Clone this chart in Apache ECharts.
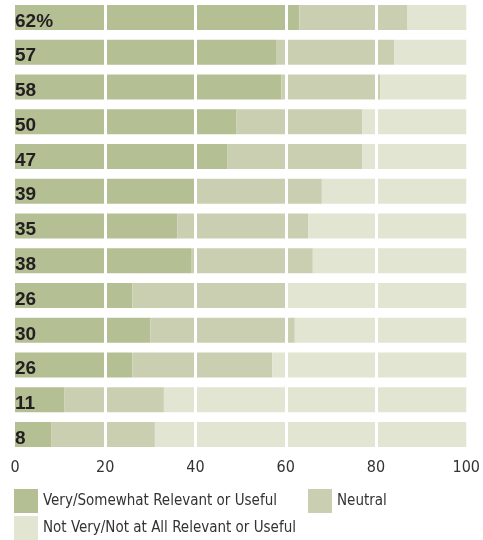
<!DOCTYPE html>
<html>
<head>
<meta charset="utf-8">
<script src="https://cdn.jsdelivr.net/npm/echarts@6/dist/echarts.min.js"></script>
<style>
  html, body { margin: 0; padding: 0; background: #fff; }
  #main { width: 483px; height: 540px; }
</style>
</head>
<body>
<div id="main"></div>
<script>
// 数据
var rows = ['r1', 'r2', 'r3', 'r4', 'r5', 'r6', 'r7', 'r8', 'r9', 'r10', 'r11', 'r12', 'r13'];
var rowLabels = ['62%', '57', '58', '50', '47', '39', '35', '38', '26', '30', '26', '11', '8'];
var usefulValues = [63, 58, 59, 49, 47, 40, 36, 39, 26, 30, 26, 11, 8];
var neutralValues = [24, 26, 22, 28, 30, 28, 29, 27, 34.5, 32, 31, 22, 23];
var notUsefulValues = [13, 16, 19, 23, 23, 32, 35, 34, 39.5, 38, 43, 67, 69];
var xTicks = [0, 20, 40, 60, 80, 100];

var seriesNames = [
    'Very/Somewhat Relevant or Useful',
    'Neutral',
    'Not Very/Not at All Relevant or Useful'
];
var colors = ['#b5bf94', '#cbcfb2', '#e2e5d2'];
var narrow = "'Liberation Sans Narrow', 'DejaVu Sans Condensed', 'Liberation Sans', sans-serif";

var myChart = echarts.init(document.getElementById('main'));

function legendAt(name, left, top) {
    return {
        data: [name],
        left: left,
        top: top,
        padding: 0,
        itemWidth: 24,
        itemHeight: 24,
        itemGap: 0,
        icon: 'rect',
        selectedMode: false,
        textStyle: {
            fontFamily: narrow,
            fontSize: 15,
            color: '#333',
            padding: [12, 0, 0, 0]
        }
    };
}

myChart.setOption({
    animation: false,
    color: colors,
    grid: { left: 15, right: 15, top: 0, bottom: 88, containLabel: false },
    legend: [
        legendAt(seriesNames[0], 14, 489),
        legendAt(seriesNames[1], 308, 489),
        legendAt(seriesNames[2], 14, 516)
    ],
    xAxis: {
        type: 'value',
        min: 0,
        max: 100,
        interval: 20,
        z: 10,
        axisLine: { show: false },
        axisTick: { show: false },
        splitLine: {
            show: true,
            showMinLine: false,
            showMaxLine: false,
            lineStyle: { color: '#fff', width: 3 }
        },
        axisLabel: {
            margin: 8,
            fontFamily: narrow,
            fontSize: 16,
            color: '#333',
            formatter: function (v) { return xTicks.indexOf(v) >= 0 ? String(v) : ''; }
        }
    },
    yAxis: {
        type: 'category',
        data: rows,
        inverse: true,
        show: false
    },
    series: [
        {
            name: seriesNames[0],
            type: 'bar',
            stack: 'all',
            barWidth: 25,
            data: usefulValues,
            label: {
                show: true,
                position: 'insideLeft',
                distance: 0,
                offset: [0, 4],
                fontFamily: "'Liberation Sans', Arial, sans-serif",
                fontWeight: 'bold',
                fontSize: 19,
                color: '#231f20',
                formatter: function (p) { return rowLabels[p.dataIndex]; }
            }
        },
        { name: seriesNames[1], type: 'bar', stack: 'all', barWidth: 25, data: neutralValues },
        { name: seriesNames[2], type: 'bar', stack: 'all', barWidth: 25, data: notUsefulValues }
    ]
});
</script>
</body>
</html>
